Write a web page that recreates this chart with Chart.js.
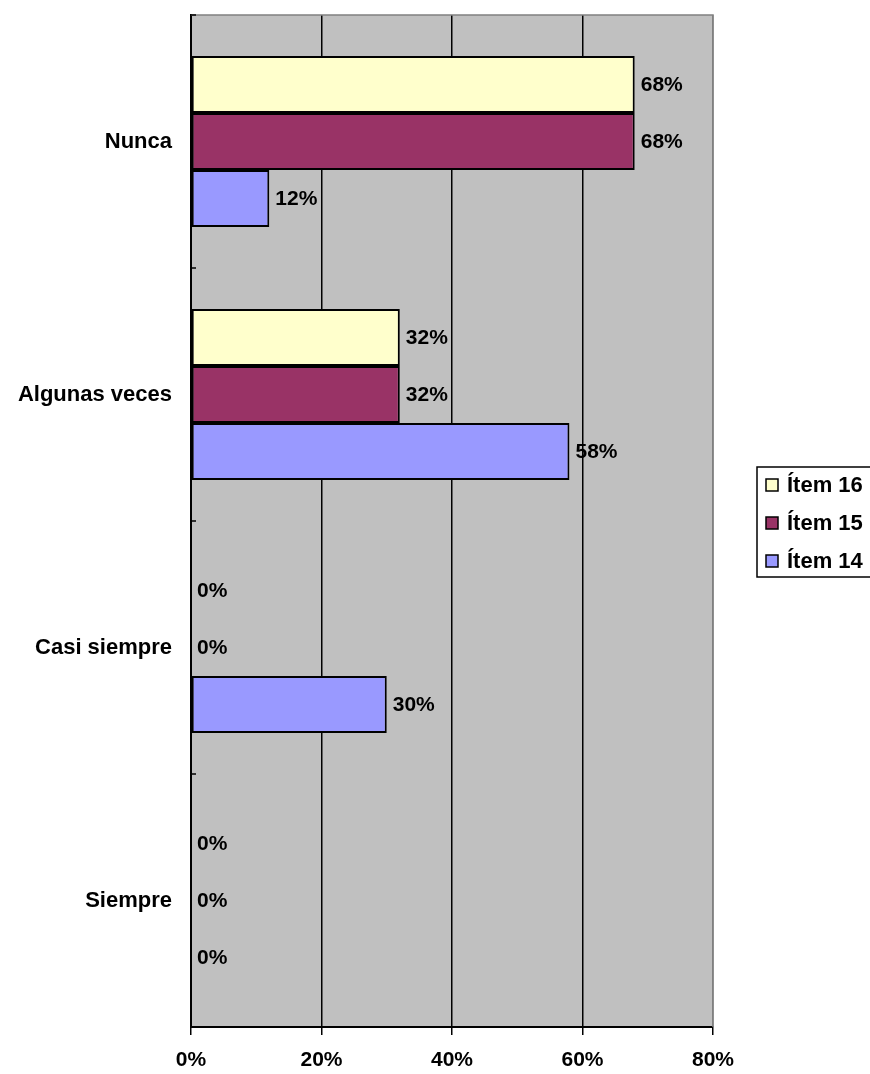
<!DOCTYPE html>
<html>
<head>
<meta charset="utf-8">
<script src="https://cdn.jsdelivr.net/npm/chart.js@4/dist/chart.umd.min.js"></script>
<style>
html,body{margin:0;padding:0;background:#fff;}
canvas{display:block;}
</style>
</head>
<body>
<canvas id="c" width="870" height="1074"></canvas>
<script>
const categories = ["Nunca", "Algunas veces", "Casi siempre", "Siempre"];
const seriesNames = ["Ítem 16", "Ítem 15", "Ítem 14"];
const item16 = [68, 32, 0, 0];
const item15 = [68, 32, 0, 0];
const item14 = [12, 58, 30, 0];
const xTicks = [0, 20, 40, 60, 80];
const colors = ["#FFFFCC", "#993366", "#9999FF"];

const FONT = "Liberation Sans, Arial, sans-serif";

const plotBg = {
  id: 'plotBg',
  beforeDraw(chart) {
    const {ctx, chartArea: a} = chart;
    ctx.save();
    ctx.fillStyle = '#C0C0C0';
    ctx.fillRect(a.left, a.top, a.right - a.left, a.bottom - a.top);
    ctx.restore();
  },
  afterDatasetsDraw(chart) {
    const {ctx, chartArea: a} = chart;
    ctx.save();
    ctx.strokeStyle = '#808080';
    ctx.lineWidth = 1.5;
    ctx.beginPath();
    ctx.moveTo(a.left, a.top); ctx.lineTo(a.right, a.top); ctx.lineTo(a.right, a.bottom);
    ctx.stroke();
    ctx.strokeStyle = '#000';
    ctx.lineWidth = 1.5;
    const n = categories.length;
    for (let i = 0; i <= n; i++) {
      const yy = a.top + (a.bottom - a.top) * i / n;
      ctx.beginPath(); ctx.moveTo(a.left, yy); ctx.lineTo(a.left + 5, yy); ctx.stroke();
    }
    ctx.fillStyle = '#000';
    ctx.font = 'bold 21px ' + FONT;
    ctx.textAlign = 'left';
    ctx.textBaseline = 'middle';
    chart.data.datasets.forEach((ds, di) => {
      const meta = chart.getDatasetMeta(di);
      meta.data.forEach((bar, i) => {
        ctx.fillText(ds.data[i] + '%', bar.x + 6, bar.y + 1);
      });
    });
    // legend
    ctx.lineWidth = 1.5;
    ctx.fillStyle = '#fff';
    ctx.fillRect(757, 467, 130, 110);
    ctx.strokeStyle = '#000';
    ctx.strokeRect(757, 467, 130, 110);
    const ys = [485, 523, 561];
    ctx.font = 'bold 22px ' + FONT;
    seriesNames.forEach((name, i) => {
      ctx.fillStyle = colors[i];
      ctx.fillRect(766, ys[i] - 6, 12, 12);
      ctx.lineWidth = 1.5;
      ctx.strokeStyle = '#000';
      ctx.strokeRect(766, ys[i] - 6, 12, 12);
      ctx.fillStyle = '#000';
      ctx.fillText(name, 787, ys[i] + 1);
    });
    ctx.restore();
  }
};

const datasets = [item16, item15, item14].map((d, i) => ({
  label: seriesNames[i],
  data: d,
  backgroundColor: colors[i],
  borderColor: '#000',
  borderWidth: 2,
  borderSkipped: false,
  categoryPercentage: 0.676,
  barPercentage: 1.0
}));

new Chart(document.getElementById('c'), {
  type: 'bar',
  data: { labels: categories, datasets },
  options: {
    indexAxis: 'y',
    responsive: false,
    animation: false,
    devicePixelRatio: 1,
    layout: { padding: { top: 15, right: 157, left: 0, bottom: 0 } },
    plugins: { legend: { display: false }, tooltip: { enabled: false } },
    scales: {
      x: {
        min: 0, max: 80,
        afterFit: s => { s.height = 47; s.paddingLeft = 0; s.paddingRight = 0; },
        afterBuildTicks: s => { s.ticks = xTicks.map(v => ({ value: v })); },
        ticks: {
          padding: 13,
          color: '#000',
          font: { family: FONT, size: 21, weight: 'bold' },
          callback: v => v + '%'
        },
        grid: {
          color: c => (c.tick && c.tick.value === 80) ? '#808080' : '#000',
          lineWidth: 1.5,
          tickColor: '#000',
          tickLength: 8,
          drawTicks: true
        },
        border: { display: true, color: '#000', width: 2 }
      },
      y: {
        afterFit: s => { s.width = 191; s.paddingTop = 0; s.paddingBottom = 0; },
        ticks: {
          padding: 19,
          color: '#000',
          font: { family: FONT, size: 22, weight: 'bold' }
        },
        grid: { display: false, drawTicks: false },
        border: { display: true, color: '#000', width: 2 }
      }
    }
  },
  plugins: [plotBg]
});
</script>
</body>
</html>
